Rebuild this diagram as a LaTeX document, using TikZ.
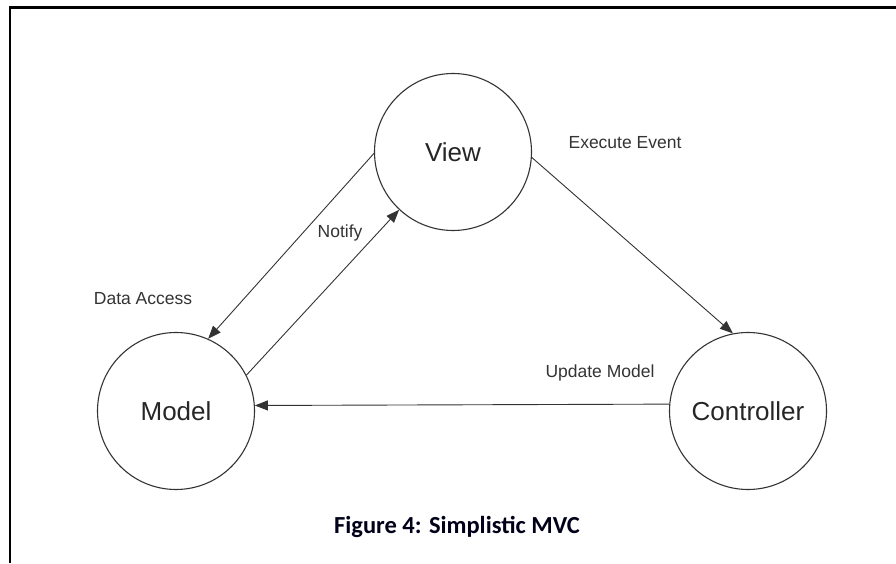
\documentclass[tikz,border=0pt]{standalone}
\usepackage{fontspec}
\setmainfont{Liberation Sans}
\newfontfamily\captionfont{Carlito}
\usetikzlibrary{arrows.meta}
\tikzset{
  state/.style={circle, draw=black!80, line width=1.1pt, minimum size=157pt, inner sep=0pt,
    text=black!85, font=\fontsize{26}{30}\selectfont},
  conn/.style={draw=black!80, line width=0.9pt, -{Triangle[length=13pt,width=10pt]}},
  lbl/.style={text=black!80, font=\fontsize{17.5}{20}\selectfont, inner sep=0pt},
  frameline/.style={line width=2.2pt, black}
}
\begin{document}
\begin{tikzpicture}[x=1pt,y=1pt]
  \useasboundingbox (0,0) rectangle (896,563);
  % page frame (top and left edges)
  \draw[frameline] (10,0) -- (10,555.5) -- (896,555.5);

  % the three components
  \node[state] (view) at (453,411) {View};
  \node[state] (model) at (176,152) {Model};
  \node[state] (ctrl) at (748,152) {Controller};

  % interactions
  \draw[conn] (view.181) -- (model.66);
  \draw[conn] (model.27) -- (view.227);
  \draw[conn] (view.-4) -- (ctrl.101);
  \draw[conn] (ctrl.175.6) -- (model.4.4);

  % labels
  \node[lbl] (lexec) at (625,420) {Execute Event};
  \node[lbl] (lnotify) at (340,330) {Notify};
  \node[lbl] (ldata) at (143,264) {Data Access};
  \node[lbl] (lupdate) at (600,190) {Update Model};

  % caption
  \node[font=\captionfont\bfseries\fontsize{24.5}{29}\selectfont, text=black!90!blue] (cap) at (457,36) {Figure 4: Simplistic MVC};
\end{tikzpicture}
\end{document}
